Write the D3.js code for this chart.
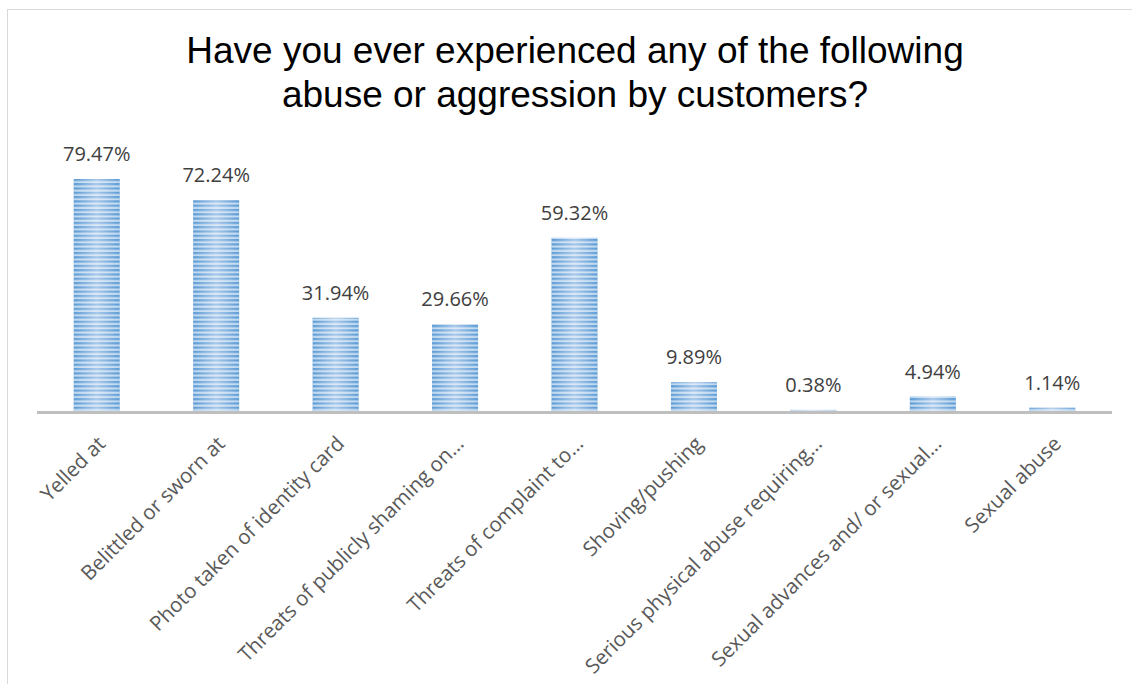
<!DOCTYPE html>
<html><head><meta charset="utf-8">
<script src="https://cdn.jsdelivr.net/npm/d3@7"></script>
<style>body{margin:0;background:#fff}svg{display:block}</style>
</head><body>
<script>
const categories = ["Yelled at","Belittled or sworn at","Photo taken of identity card","Threats of publicly shaming on…","Threats of complaint to…","Shoving/pushing","Serious physical abuse requiring…","Sexual advances and/ or sexual…","Sexual abuse"];
const values = [79.47,72.24,31.94,29.66,59.32,9.89,0.38,4.94,1.14];
const valueLabels = ["79.47%","72.24%","31.94%","29.66%","59.32%","9.89%","0.38%","4.94%","1.14%"];
const titleLines = ["Have you ever experienced any of the following","abuse or aggression by customers?"];

const W=1132,H=684;
const svg=d3.select("body").append("svg").attr("width",W).attr("height",H);
svg.append("rect").attr("x",7.5).attr("y",9.5).attr("width",1200).attr("height",800).attr("fill","#fff").attr("stroke","#d9d9d9").attr("stroke-width",1);

const defs=svg.append("defs");
const grad=defs.append("linearGradient").attr("id","g").attr("x1",0).attr("x2",1).attr("y1",0).attr("y2",0);
grad.append("stop").attr("offset","0%").attr("stop-color","#5b9bd5");
grad.append("stop").attr("offset","50%").attr("stop-color","#a8c8ea");
grad.append("stop").attr("offset","100%").attr("stop-color","#5b9bd5");

const x0=37,x1=1112,base=411;
const x=d3.scaleBand().domain(categories).range([x0,x1]).paddingInner(0.615).paddingOuter(0.3075);
const y=d3.scaleLinear().domain([0,79.47]).range([base,179]);

const sp=defs.append("pattern").attr("id","stripes").attr("patternUnits","userSpaceOnUse").attr("width",8).attr("height",4.3).attr("y",base);
sp.append("rect").attr("y",2.2).attr("width",8).attr("height",2.1).attr("fill","#ffffff");

const g=svg.append("g");
categories.forEach((c,i)=>{
  const bx=x(c),bw=x.bandwidth(),by=y(values[i]),bh=Math.max(base-y(values[i]),1);
  g.append("rect").attr("x",bx).attr("y",by).attr("width",bw).attr("height",bh).attr("fill","url(#g)");
  g.append("rect").attr("x",bx).attr("y",by).attr("width",bw).attr("height",bh).attr("fill","url(#stripes)").attr("opacity",0.6);
});

svg.append("line").attr("x1",x0).attr("x2",x1).attr("y1",base+1.5).attr("y2",base+1.5).attr("stroke","#bfbfbf").attr("stroke-width",3);

svg.append("g").selectAll("text").data(categories).join("text")
  .attr("x",(d)=>x(d)+x.bandwidth()/2).attr("y",(d,i)=>y(values[i])-18)
  .attr("text-anchor","middle").attr("font-family","'Open Sans',sans-serif").attr("font-size",20).attr("fill","#404040")
  .text((d,i)=>valueLabels[i]);

svg.append("g").selectAll("text").data(categories).join("text")
  .attr("transform",d=>`translate(${x(d)+x.bandwidth()/2+10},${base+34}) rotate(-45)`)
  .attr("text-anchor","end").attr("font-family","'Open Sans',sans-serif").attr("font-size",20.5).attr("fill","#595959")
  .text(d=>d);

svg.append("g").selectAll("text").data(titleLines).join("text")
  .attr("x",575).attr("y",(d,i)=>63+i*44).attr("text-anchor","middle")
  .attr("font-family","'Liberation Sans',Arial,sans-serif").attr("font-size",37).attr("fill","#000")
  .text(d=>d);
</script>
</body></html>
